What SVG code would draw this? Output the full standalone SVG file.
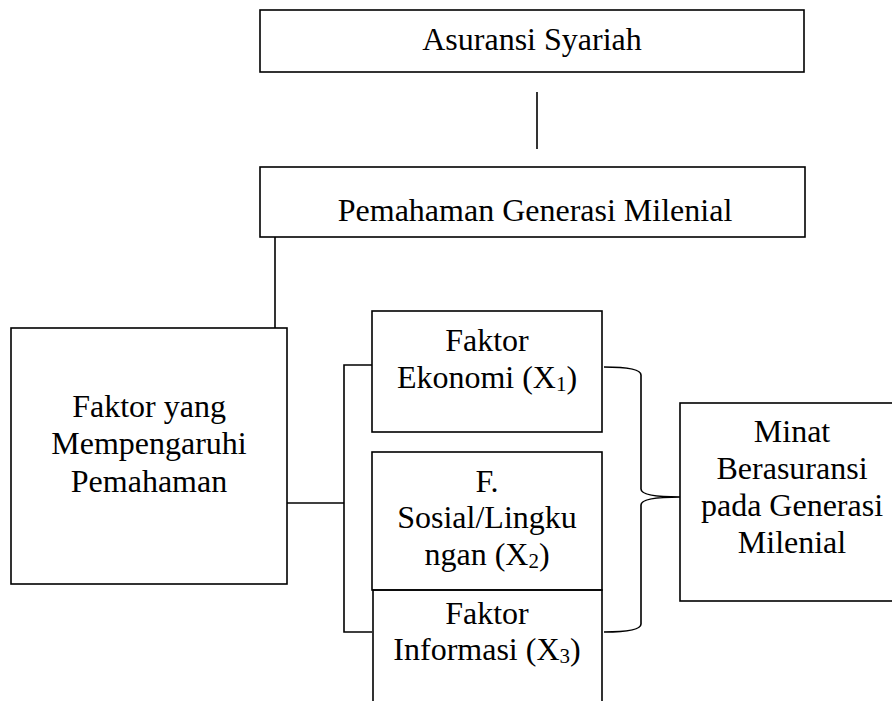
<svg xmlns="http://www.w3.org/2000/svg" width="892" height="701" viewBox="0 0 892 701">
<style>
.box{fill:#fff;stroke:#000;stroke-width:1.6}
.ln{fill:none;stroke:#000;stroke-width:1.6}
text{font-family:"Liberation Serif","Times New Roman",serif;font-size:32px;fill:#000;text-anchor:middle}
.sub{font-size:21px}
</style>
<rect width="892" height="701" fill="#fff"/>
<g id="connectors">
<line class="ln" x1="537" y1="92" x2="537" y2="149"/>
<line class="ln" x1="275" y1="237" x2="275" y2="328"/>
<line class="ln" x1="287" y1="503" x2="344" y2="503"/>
<polyline class="ln" points="372,365 344,365 344,632 372,632"/>
<path class="ln" d="M604,367 Q641,367 641,375 L641,489 Q641,497 680,497 Q641,497 641,505 L641,624 Q641,632 604,632"/>
</g>
<g id="asuransi">
<rect class="box" x="260" y="10" width="544" height="62"/>
<text x="532" y="50">Asuransi Syariah</text>
</g>
<g id="pemahaman">
<rect class="box" x="260" y="167" width="545" height="70"/>
<text x="535" y="221">Pemahaman Generasi Milenial</text>
</g>
<g id="faktor-pengaruh">
<rect class="box" x="11" y="328" width="276" height="256"/>
<text x="149" y="417">Faktor yang</text>
<text x="149" y="454">Mempengaruhi</text>
<text x="149" y="492">Pemahaman</text>
</g>
<g id="x1">
<rect class="box" x="372" y="311" width="230" height="121"/>
<text x="487" y="351">Faktor</text>
<text x="487" y="388">Ekonomi (X<tspan class="sub" dy="3">1</tspan><tspan dy="-3">)</tspan></text>
</g>
<g id="x2">
<rect class="box" x="372" y="452" width="230" height="138"/>
<text x="487" y="492">F.</text>
<text x="487" y="528">Sosial/Lingku</text>
<text x="487" y="565">ngan (X<tspan class="sub" dy="3">2</tspan><tspan dy="-3">)</tspan></text>
</g>
<g id="x3">
<polyline class="ln" points="373,701 373,590 602,590 602,701"/>
<text x="487" y="624">Faktor</text>
<text x="487" y="660">Informasi (X<tspan class="sub" dy="3">3</tspan><tspan dy="-3">)</tspan></text>
</g>
<g id="minat">
<rect class="box" x="680" y="403" width="230" height="198"/>
<text x="792" y="442">Minat</text>
<text x="792" y="479">Berasuransi</text>
<text x="792" y="516">pada Generasi</text>
<text x="792" y="553">Milenial</text>
</g>
</svg>
